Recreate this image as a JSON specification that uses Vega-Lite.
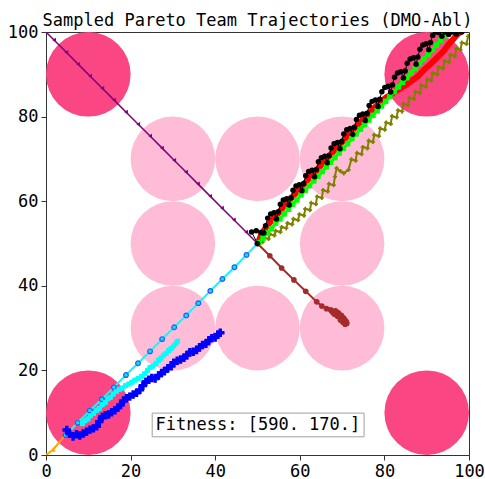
{
  "$schema": "https://vega.github.io/schema/vega-lite/v6.json",
  "width": 423,
  "height": 423,
  "autosize": "none",
  "padding": {"left": 46, "top": 32, "right": 16, "bottom": 24},
  "background": "white",
  "title": {
    "text": "Sampled Pareto Team Trajectories (DMO-Abl)",
    "font": "DejaVu Sans Mono",
    "fontSize": 17,
    "fontWeight": "normal",
    "color": "#000",
    "anchor": "middle",
    "offset": -7
  },
  "config": {
    "view": {"stroke": "#333", "strokeWidth": 1},
    "axis": {
      "labelFont": "DejaVu Sans Mono",
      "labelFontSize": 17,
      "labelColor": "#000",
      "tickColor": "#333",
      "domainColor": "#333",
      "tickSize": 5,
      "labelPadding": 3,
      "grid": false,
      "labelFlush": false
    }
  },
  "datasets": {
    "zones": [
      {"x": 10, "y": 90, "k": "high"}, {"x": 90, "y": 90, "k": "high"},
      {"x": 10, "y": 10, "k": "high"}, {"x": 90, "y": 10, "k": "high"},
      {"x": 30, "y": 70, "k": "low"}, {"x": 50, "y": 70, "k": "low"}, {"x": 70, "y": 70, "k": "low"},
      {"x": 30, "y": 50, "k": "low"}, {"x": 70, "y": 50, "k": "low"},
      {"x": 30, "y": 30, "k": "low"}, {"x": 50, "y": 30, "k": "low"}, {"x": 70, "y": 30, "k": "low"}
    ],
    "orange": [
      {"x": 0, "y": 0}, {"x": 1.7, "y": 1.3}, {"x": 4.9, "y": 5.1}, {"x": 8.2, "y": 8.3}
    ],
    "cyanA": [
      {"x": 4.65, "y": 4.7}, {"x": 7.5, "y": 7.6}, {"x": 10.35, "y": 10.5}, {"x": 13.2, "y": 13.2},
      {"x": 16.05, "y": 16.0}, {"x": 18.9, "y": 18.9}, {"x": 21.75, "y": 21.7}, {"x": 24.6, "y": 24.5},
      {"x": 27.45, "y": 27.4}, {"x": 30.3, "y": 30.2}, {"x": 33.15, "y": 33.0}, {"x": 36.0, "y": 35.9},
      {"x": 38.85, "y": 38.8}, {"x": 41.7, "y": 41.6}, {"x": 44.55, "y": 44.4}, {"x": 47.4, "y": 47.3},
      {"x": 50, "y": 50}
    ],
    "cyanB": [
      {"x": 8.6, "y": 7.4}, {"x": 9.2, "y": 8.1}, {"x": 9.9, "y": 8.5}, {"x": 10.5, "y": 9.3},
      {"x": 11.2, "y": 9.8}, {"x": 12.0, "y": 10.6}, {"x": 12.6, "y": 11.0}, {"x": 13.3, "y": 11.9},
      {"x": 14.0, "y": 12.4}, {"x": 14.6, "y": 13.3}, {"x": 15.2, "y": 13.6}, {"x": 15.9, "y": 14.4},
      {"x": 16.6, "y": 15.0}, {"x": 17.3, "y": 15.5}, {"x": 18.0, "y": 15.8}, {"x": 18.8, "y": 16.4},
      {"x": 19.6, "y": 16.8}, {"x": 20.3, "y": 17.2}, {"x": 21.0, "y": 17.7}, {"x": 21.8, "y": 18.1},
      {"x": 22.6, "y": 18.6}, {"x": 23.3, "y": 19.2}, {"x": 24.0, "y": 20.0}, {"x": 24.6, "y": 20.7},
      {"x": 25.3, "y": 21.0}, {"x": 26.0, "y": 21.6}, {"x": 26.6, "y": 22.4}, {"x": 27.2, "y": 22.9},
      {"x": 27.8, "y": 23.6}, {"x": 28.4, "y": 24.0}, {"x": 29.0, "y": 24.7}, {"x": 29.6, "y": 25.2},
      {"x": 30.2, "y": 25.8}, {"x": 30.7, "y": 26.4}, {"x": 31.1, "y": 26.9}
    ],
    "blue": [
      {"x": 4.9, "y": 5.9}, {"x": 5.6, "y": 5.0}, {"x": 6.4, "y": 4.4}, {"x": 7.2, "y": 4.9},
      {"x": 8.0, "y": 4.6}, {"x": 8.8, "y": 5.1}, {"x": 9.6, "y": 5.5}, {"x": 10.4, "y": 6.0},
      {"x": 11.2, "y": 6.3}, {"x": 12.0, "y": 6.8}, {"x": 12.6, "y": 7.9}, {"x": 13.3, "y": 9.0},
      {"x": 14.0, "y": 9.4}, {"x": 14.8, "y": 9.6}, {"x": 15.5, "y": 10.1}, {"x": 16.3, "y": 10.6},
      {"x": 17.0, "y": 11.2}, {"x": 17.6, "y": 11.8}, {"x": 18.3, "y": 12.8}, {"x": 19.0, "y": 13.4},
      {"x": 19.8, "y": 13.8}, {"x": 20.6, "y": 14.3}, {"x": 21.4, "y": 14.7}, {"x": 22.2, "y": 15.4},
      {"x": 22.9, "y": 16.4}, {"x": 23.6, "y": 17.3}, {"x": 24.3, "y": 17.8}, {"x": 25.0, "y": 18.2},
      {"x": 25.8, "y": 18.1}, {"x": 26.6, "y": 18.8}, {"x": 27.3, "y": 19.4}, {"x": 28.0, "y": 19.8},
      {"x": 28.8, "y": 20.5}, {"x": 29.6, "y": 21.0}, {"x": 30.2, "y": 21.8}, {"x": 31.0, "y": 22.3},
      {"x": 31.8, "y": 22.6}, {"x": 32.6, "y": 23.0}, {"x": 33.3, "y": 23.6}, {"x": 34.0, "y": 24.3},
      {"x": 34.8, "y": 24.4}, {"x": 35.6, "y": 24.8}, {"x": 36.3, "y": 25.5}, {"x": 37.0, "y": 26.0},
      {"x": 37.8, "y": 26.3}, {"x": 38.5, "y": 27.1}, {"x": 39.2, "y": 27.6}, {"x": 40.0, "y": 27.8},
      {"x": 40.6, "y": 28.5}, {"x": 41.2, "y": 28.9}
    ],
    "purple": [
      {"x": 0, "y": 100}, {"x": 1.9, "y": 98.1}, {"x": 4.8, "y": 95.2}, {"x": 7.6, "y": 92.4},
      {"x": 10.4, "y": 89.6}, {"x": 13.3, "y": 86.7}, {"x": 16.1, "y": 83.9}, {"x": 18.9, "y": 81.1},
      {"x": 21.8, "y": 78.2}, {"x": 24.6, "y": 75.4}, {"x": 27.4, "y": 72.6}, {"x": 30.3, "y": 69.7},
      {"x": 33.1, "y": 66.9}, {"x": 35.9, "y": 64.1}, {"x": 38.8, "y": 61.2}, {"x": 41.6, "y": 58.4},
      {"x": 44.4, "y": 55.6}, {"x": 47.3, "y": 52.7}, {"x": 50, "y": 50}
    ],
    "brown": [
      {"x": 50, "y": 50}, {"x": 52.9, "y": 47.1}, {"x": 55.7, "y": 44.2}, {"x": 58.6, "y": 41.4},
      {"x": 61.4, "y": 38.7}, {"x": 64.0, "y": 36.2}, {"x": 65.2, "y": 35.2}, {"x": 66.3, "y": 34.6},
      {"x": 67.3, "y": 34.3}, {"x": 67.8, "y": 33.7}, {"x": 68.4, "y": 34.1}, {"x": 68.7, "y": 33.2},
      {"x": 69.1, "y": 33.6}, {"x": 69.3, "y": 32.7}, {"x": 69.8, "y": 33.0}, {"x": 69.9, "y": 32.1},
      {"x": 70.3, "y": 32.4}, {"x": 70.5, "y": 31.6}, {"x": 70.9, "y": 31.6}, {"x": 70.7, "y": 30.9},
      {"x": 71.1, "y": 31.1}, {"x": 70.2, "y": 31.4}, {"x": 69.6, "y": 31.9}, {"x": 68.9, "y": 32.8},
      {"x": 68.2, "y": 33.3}, {"x": 67.6, "y": 34.0}, {"x": 68.6, "y": 33.9}, {"x": 69.4, "y": 33.1},
      {"x": 70.0, "y": 32.5}, {"x": 70.6, "y": 32.0}, {"x": 71.0, "y": 31.4}
    ],
    "olive": [
      {"x": 50.2, "y": 50.3}, {"x": 51.2, "y": 50.3}, {"x": 51.5, "y": 51.4}, {"x": 52.6, "y": 51.1},
      {"x": 52.9, "y": 52.2}, {"x": 54.0, "y": 51.9}, {"x": 54.3, "y": 53.0}, {"x": 55.4, "y": 52.7},
      {"x": 55.7, "y": 53.9}, {"x": 56.8, "y": 53.6}, {"x": 57.1, "y": 54.8}, {"x": 58.2, "y": 54.5},
      {"x": 58.5, "y": 55.8}, {"x": 59.6, "y": 55.5}, {"x": 59.9, "y": 56.9}, {"x": 61.0, "y": 56.6},
      {"x": 61.3, "y": 58.2}, {"x": 62.4, "y": 57.9}, {"x": 62.7, "y": 59.6}, {"x": 63.8, "y": 59.3},
      {"x": 64.1, "y": 61.1}, {"x": 65.2, "y": 60.8}, {"x": 65.5, "y": 62.6}, {"x": 66.6, "y": 62.3},
      {"x": 66.9, "y": 64.1}, {"x": 68.0, "y": 63.8}, {"x": 68.3, "y": 65.8}, {"x": 68.7, "y": 67.8},
      {"x": 69.6, "y": 67.1}, {"x": 70.4, "y": 66.6}, {"x": 71.5, "y": 67.4}, {"x": 72.2, "y": 69.9},
      {"x": 73.2, "y": 69.6}, {"x": 73.5, "y": 71.4}, {"x": 74.6, "y": 71.1}, {"x": 74.9, "y": 72.8},
      {"x": 76.0, "y": 72.5}, {"x": 76.3, "y": 74.3}, {"x": 77.3, "y": 74.0}, {"x": 77.6, "y": 75.7},
      {"x": 78.7, "y": 75.4}, {"x": 79.0, "y": 77.2}, {"x": 80.1, "y": 76.9}, {"x": 80.4, "y": 78.6},
      {"x": 81.5, "y": 78.3}, {"x": 81.8, "y": 80.1}, {"x": 82.9, "y": 79.8}, {"x": 83.2, "y": 81.5},
      {"x": 84.2, "y": 81.2}, {"x": 84.5, "y": 83.0}, {"x": 85.6, "y": 82.7}, {"x": 85.9, "y": 84.5},
      {"x": 87.0, "y": 84.2}, {"x": 87.3, "y": 85.9}, {"x": 88.4, "y": 85.6}, {"x": 88.7, "y": 87.4},
      {"x": 89.8, "y": 87.1}, {"x": 90.1, "y": 88.8}, {"x": 91.1, "y": 88.5}, {"x": 91.4, "y": 90.3},
      {"x": 92.5, "y": 90.0}, {"x": 92.8, "y": 91.7}, {"x": 93.9, "y": 91.4}, {"x": 94.2, "y": 93.2},
      {"x": 95.3, "y": 92.9}, {"x": 95.6, "y": 94.6}, {"x": 96.7, "y": 94.3}, {"x": 97.0, "y": 96.1},
      {"x": 98.0, "y": 95.8}, {"x": 98.3, "y": 97.5}, {"x": 99.4, "y": 97.2}, {"x": 99.8, "y": 99.0}
    ],
    "red": [
      {"x": 50.3, "y": 50.6}, {"x": 51.0, "y": 52.4}, {"x": 52.0, "y": 53.8}, {"x": 53.5, "y": 55.6},
      {"x": 55.0, "y": 57.2}, {"x": 56.5, "y": 59.1}, {"x": 58.0, "y": 60.7}, {"x": 59.5, "y": 62.4},
      {"x": 61.0, "y": 64.0}, {"x": 62.5, "y": 65.8}, {"x": 64.0, "y": 67.3}, {"x": 65.5, "y": 69.1},
      {"x": 67.0, "y": 70.7}, {"x": 68.5, "y": 72.4}, {"x": 70.0, "y": 74.0}, {"x": 71.5, "y": 75.7},
      {"x": 73.0, "y": 77.3}, {"x": 74.5, "y": 78.9}, {"x": 76.0, "y": 80.4}, {"x": 77.5, "y": 82.0},
      {"x": 79.0, "y": 83.3}, {"x": 80.5, "y": 84.6}, {"x": 82.0, "y": 85.6}, {"x": 83.5, "y": 86.5},
      {"x": 85.0, "y": 87.4}, {"x": 86.5, "y": 88.5}, {"x": 88.0, "y": 89.6}, {"x": 89.5, "y": 91.2},
      {"x": 91.0, "y": 92.5}, {"x": 92.5, "y": 94.0}, {"x": 94.0, "y": 95.5}, {"x": 95.2, "y": 97.1},
      {"x": 96.2, "y": 98.2}, {"x": 97.2, "y": 99.4}, {"x": 98.0, "y": 100}
    ],
    "green": [
      {"x": 50.3, "y": 50.2}, {"x": 51.3, "y": 51.2}, {"x": 52.3, "y": 52.5}, {"x": 53.3, "y": 53.5},
      {"x": 54.3, "y": 54.8}, {"x": 55.3, "y": 55.8}, {"x": 56.3, "y": 57.0}, {"x": 57.3, "y": 58.1},
      {"x": 58.3, "y": 59.3}, {"x": 59.3, "y": 60.3}, {"x": 60.3, "y": 61.5}, {"x": 61.3, "y": 62.6},
      {"x": 62.3, "y": 63.7}, {"x": 63.3, "y": 64.8}, {"x": 64.3, "y": 65.9}, {"x": 65.3, "y": 67.0},
      {"x": 66.3, "y": 68.1}, {"x": 67.3, "y": 69.2}, {"x": 68.3, "y": 70.3}, {"x": 69.3, "y": 71.4},
      {"x": 70.3, "y": 72.5}, {"x": 71.3, "y": 73.6}, {"x": 72.3, "y": 74.8}, {"x": 73.3, "y": 75.9},
      {"x": 74.3, "y": 77.0}, {"x": 75.3, "y": 78.1}, {"x": 76.3, "y": 79.2}, {"x": 77.3, "y": 80.3},
      {"x": 78.3, "y": 81.4}, {"x": 79.3, "y": 82.5}, {"x": 80.3, "y": 83.6}, {"x": 81.3, "y": 84.8},
      {"x": 82.3, "y": 85.9}, {"x": 83.3, "y": 87.0}, {"x": 84.3, "y": 88.1}, {"x": 85.3, "y": 89.2},
      {"x": 86.3, "y": 90.3}, {"x": 87.3, "y": 91.4}, {"x": 88.3, "y": 92.5}, {"x": 89.3, "y": 93.6},
      {"x": 90.3, "y": 94.7}, {"x": 91.3, "y": 95.8}, {"x": 92.3, "y": 96.9}, {"x": 93.3, "y": 98.0},
      {"x": 94.3, "y": 99.1}, {"x": 95.2, "y": 100}
    ],
    "black": [
      {"x": 50.0, "y": 50.0}, {"x": 48.6, "y": 52.7}, {"x": 49.7, "y": 53.0}, {"x": 50.8, "y": 52.6},
      {"x": 51.5, "y": 52.5}, {"x": 51.9, "y": 54.2}, {"x": 52.4, "y": 56.0}, {"x": 53.1, "y": 57.0}, {"x": 53.9, "y": 57.3},
      {"x": 54.5, "y": 55.8}, {"x": 54.9, "y": 57.5}, {"x": 55.4, "y": 59.3}, {"x": 56.1, "y": 60.3}, {"x": 56.9, "y": 60.6},
      {"x": 57.5, "y": 59.1}, {"x": 57.9, "y": 60.8}, {"x": 58.4, "y": 62.6}, {"x": 59.1, "y": 63.6}, {"x": 59.9, "y": 63.9},
      {"x": 60.5, "y": 62.5}, {"x": 60.9, "y": 64.2}, {"x": 61.4, "y": 66.0}, {"x": 62.1, "y": 67.0}, {"x": 62.9, "y": 67.3},
      {"x": 63.5, "y": 65.8}, {"x": 63.9, "y": 67.5}, {"x": 64.4, "y": 69.3}, {"x": 65.1, "y": 70.3}, {"x": 65.9, "y": 70.6},
      {"x": 66.5, "y": 69.1}, {"x": 66.9, "y": 70.8}, {"x": 67.4, "y": 72.6}, {"x": 68.1, "y": 73.6}, {"x": 68.9, "y": 73.9},
      {"x": 69.5, "y": 72.4}, {"x": 69.9, "y": 74.1}, {"x": 70.4, "y": 75.9}, {"x": 71.1, "y": 76.9}, {"x": 71.9, "y": 77.2},
      {"x": 72.5, "y": 75.8}, {"x": 72.9, "y": 77.5}, {"x": 73.4, "y": 79.3}, {"x": 74.1, "y": 80.3}, {"x": 74.9, "y": 80.6},
      {"x": 75.5, "y": 79.1}, {"x": 75.9, "y": 80.8}, {"x": 76.4, "y": 82.6}, {"x": 77.1, "y": 83.6}, {"x": 77.9, "y": 83.9},
      {"x": 78.5, "y": 82.4}, {"x": 78.9, "y": 84.1}, {"x": 79.4, "y": 85.9}, {"x": 80.1, "y": 86.9}, {"x": 80.9, "y": 87.2},
      {"x": 81.5, "y": 85.8}, {"x": 81.9, "y": 87.5}, {"x": 82.4, "y": 89.3}, {"x": 83.1, "y": 90.3}, {"x": 83.9, "y": 90.6},
      {"x": 84.5, "y": 89.1}, {"x": 84.9, "y": 90.8}, {"x": 85.4, "y": 92.6}, {"x": 86.1, "y": 93.6}, {"x": 86.9, "y": 93.9},
      {"x": 87.5, "y": 92.4}, {"x": 87.9, "y": 94.1}, {"x": 88.4, "y": 95.9}, {"x": 89.1, "y": 96.9}, {"x": 89.9, "y": 97.2},
      {"x": 90.5, "y": 95.8}, {"x": 90.9, "y": 97.5}, {"x": 91.4, "y": 99.2}, {"x": 92.1, "y": 100}, {"x": 92.9, "y": 99.8},
      {"x": 93.6, "y": 99.0}, {"x": 94.3, "y": 100}, {"x": 95.2, "y": 99.4}, {"x": 96.0, "y": 100},
      {"x": 97.0, "y": 99.5}, {"x": 98.3, "y": 100}
    ]
  },
  "layer": [
    {
      "encoding": {
        "x": {
          "field": "x", "type": "quantitative",
          "scale": {"domain": [0, 100], "nice": false, "zero": false},
          "axis": {"title": null, "values": [0, 20, 40, 60, 80, 100]}
        },
        "y": {
          "field": "y", "type": "quantitative",
          "scale": {"domain": [0, 100], "nice": false, "zero": false},
          "axis": {"title": null, "values": [0, 20, 40, 60, 80, 100]}
        }
      },
      "layer": [
        {
          "data": {"name": "zones"},
          "mark": {"type": "point", "shape": "circle", "filled": true, "opacity": 1, "size": 7157, "strokeWidth": 0},
          "encoding": {
            "color": {"field": "k", "type": "nominal", "legend": null,
                      "scale": {"domain": ["high", "low"], "range": ["#fa4682", "#ffbcd6"]}}
          }
        },
        {
          "data": {"name": "orange"},
          "layer": [
            {"mark": {"type": "line", "color": "#ffa500", "strokeWidth": 2, "clip": true}, "encoding": {"order": {"value": null}}},
            {"mark": {"type": "point", "shape": "triangle-up", "filled": true, "color": "#ffa500", "opacity": 1, "size": 25, "clip": true}}
          ]
        },
        {
          "data": {"name": "cyanA"},
          "layer": [
            {"mark": {"type": "line", "color": "#00ffff", "strokeWidth": 2, "clip": true}, "encoding": {"order": {"value": null}}},
            {"mark": {"type": "point", "shape": "circle", "filled": true, "fill": "#00e8ff", "stroke": "#2a55ff", "strokeWidth": 1.2, "opacity": 1, "size": 22, "clip": true}}
          ]
        },
        {
          "data": {"name": "cyanB"},
          "layer": [
            {"mark": {"type": "line", "color": "#00ffff", "strokeWidth": 4, "clip": true}, "encoding": {"order": {"value": null}}},
            {"mark": {"type": "point", "shape": "square", "filled": true, "color": "#00ffff", "opacity": 1, "size": 25, "clip": true}}
          ]
        },
        {
          "data": {"name": "blue"},
          "layer": [
            {"mark": {"type": "line", "color": "#0000ff", "strokeWidth": 3, "clip": true}, "encoding": {"order": {"value": null}}},
            {"mark": {"type": "point", "shape": "cross", "filled": true, "color": "#0000ff", "opacity": 1, "size": 72, "clip": true}}
          ]
        },
        {
          "data": {"name": "purple"},
          "layer": [
            {"mark": {"type": "line", "color": "#800080", "strokeWidth": 1.5, "clip": true}, "encoding": {"order": {"value": null}}},
            {"mark": {"type": "point", "shape": "triangle-left", "filled": true, "color": "#800080", "opacity": 1, "size": 20, "clip": true}}
          ]
        },
        {
          "data": {"name": "brown"},
          "layer": [
            {"mark": {"type": "line", "color": "#a52a2a", "strokeWidth": 2, "clip": true}, "encoding": {"order": {"value": null}}},
            {"mark": {"type": "point", "shape": "circle", "filled": true, "color": "#a52a2a", "opacity": 1, "size": 32, "clip": true}}
          ]
        },
        {
          "data": {"name": "olive"},
          "layer": [
            {"mark": {"type": "line", "color": "#808000", "strokeWidth": 2, "clip": true}, "encoding": {"order": {"value": null}}},
            {"mark": {"type": "point", "shape": "cross", "filled": true, "color": "#808000", "opacity": 1, "size": 18, "clip": true}}
          ]
        },
        {
          "data": {"name": "red"},
          "mark": {"type": "line", "color": "#ff0000", "strokeWidth": 6, "strokeCap": "round", "strokeJoin": "round", "clip": true},
          "encoding": {"order": {"value": null}}
        },
        {
          "data": {"name": "green"},
          "layer": [
            {"mark": {"type": "line", "color": "#00ff00", "strokeWidth": 3, "clip": true}, "encoding": {"order": {"value": null}}},
            {"mark": {"type": "point", "shape": "square", "filled": true, "color": "#00ff00", "opacity": 1, "size": 30, "clip": true}}
          ]
        },
        {
          "data": {"name": "black"},
          "layer": [
            {"mark": {"type": "line", "color": "#000000", "strokeWidth": 1, "clip": true}, "encoding": {"order": {"value": null}}},
            {"mark": {"type": "point", "shape": "circle", "filled": true, "color": "#000000", "opacity": 1, "size": 30, "clip": true}}
          ]
        }
      ]
    },
    {
      "data": {"values": [{"label": "Fitness: [590. 170.]"}]},
      "layer": [
        {
          "mark": {"type": "rect", "fill": "white", "stroke": "#a0a0a0", "strokeWidth": 1},
          "encoding": {
            "x": {"datum": 25.1, "type": "quantitative", "axis": {"title": null, "values": [0, 20, 40, 60, 80, 100]}},
            "x2": {"datum": 75.2},
            "y": {"datum": 9.9, "type": "quantitative", "axis": {"title": null, "values": [0, 20, 40, 60, 80, 100]}},
            "y2": {"datum": 4.3}
          }
        },
        {
          "mark": {"type": "text", "font": "DejaVu Sans Mono", "fontSize": 17, "color": "#000", "align": "center", "baseline": "middle"},
          "encoding": {
            "x": {"datum": 50.1, "type": "quantitative", "axis": {"title": null, "values": [0, 20, 40, 60, 80, 100]}},
            "y": {"datum": 7.1, "type": "quantitative", "axis": {"title": null, "values": [0, 20, 40, 60, 80, 100]}},
            "text": {"field": "label"}
          }
        }
      ]
    }
  ]
}
